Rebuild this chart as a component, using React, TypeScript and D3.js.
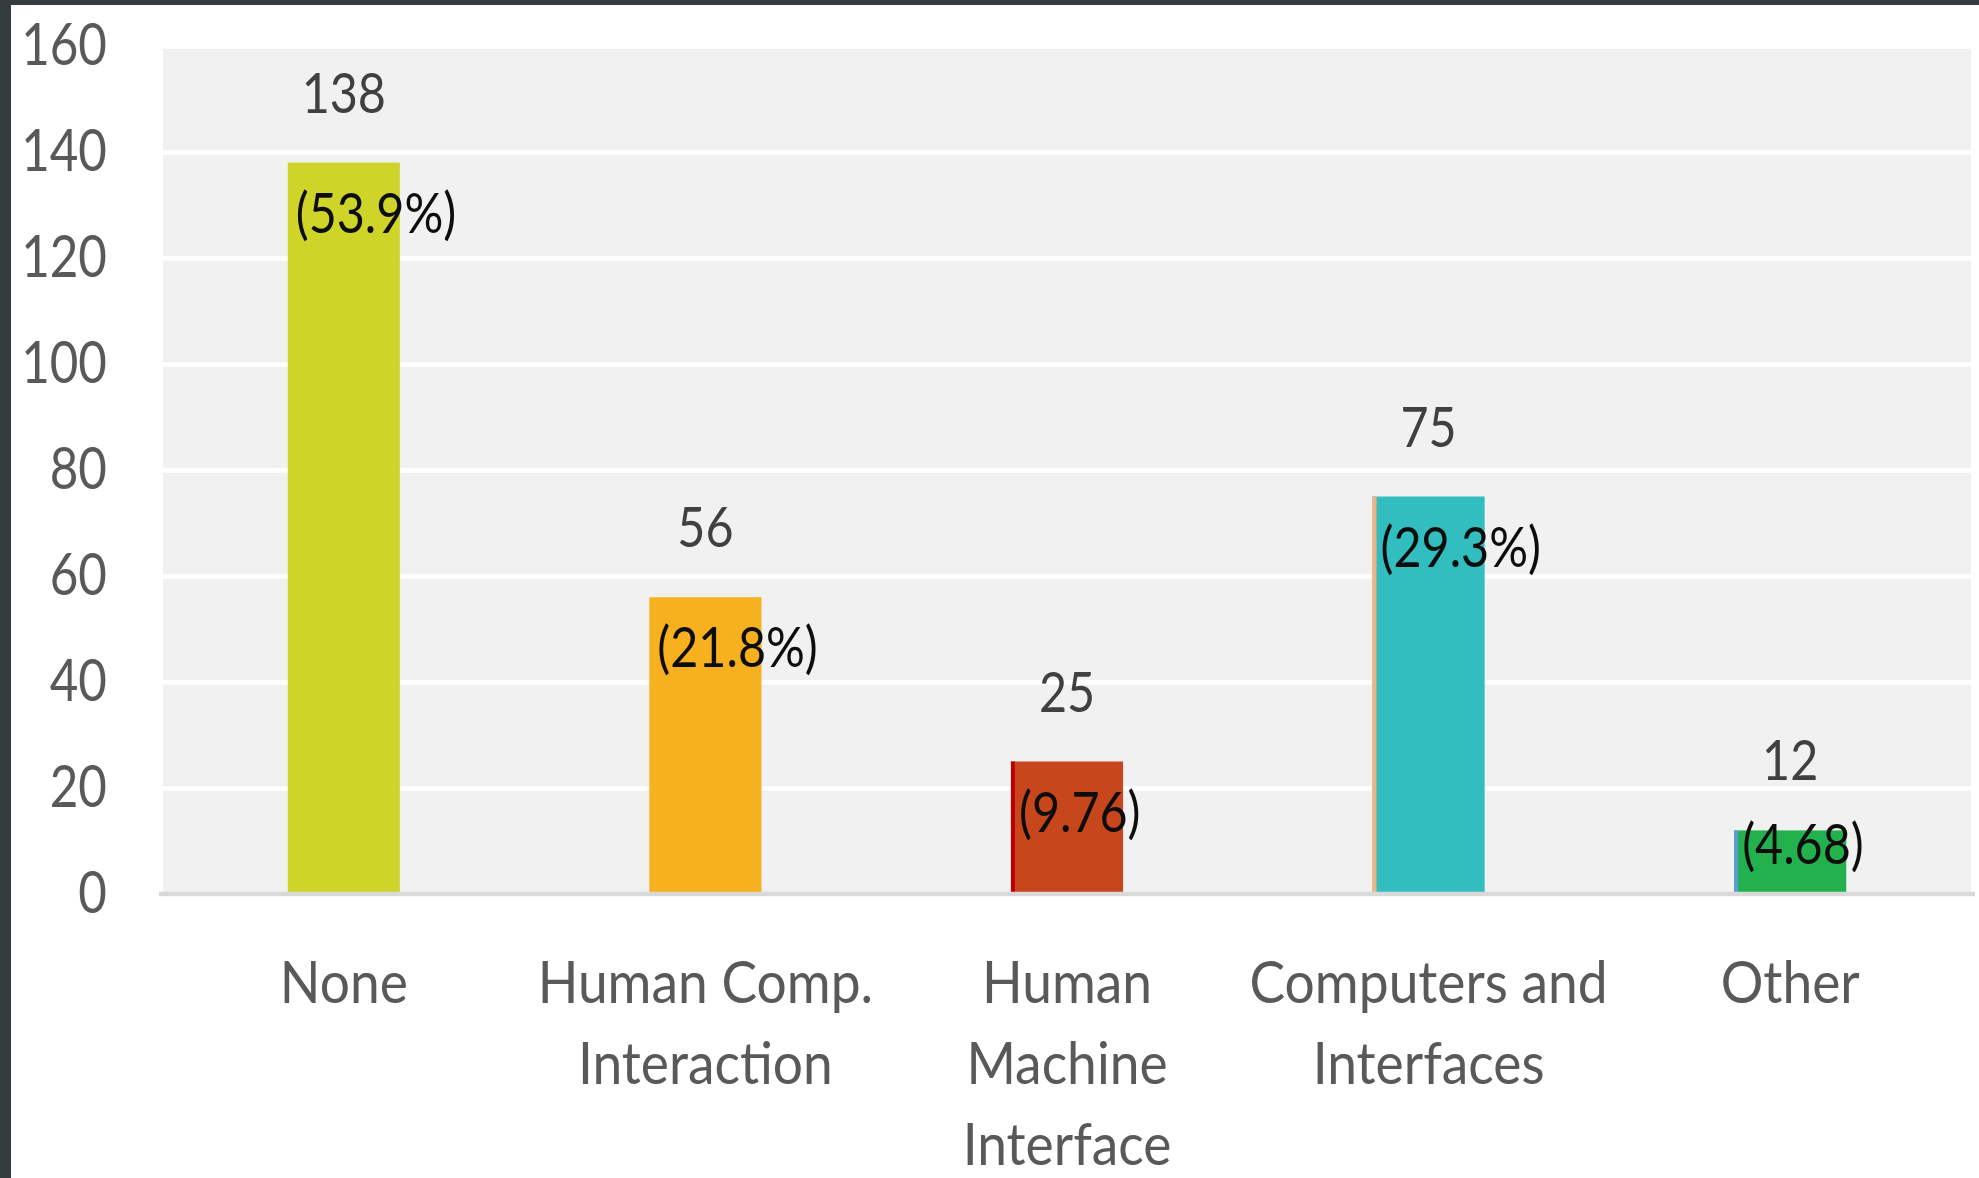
import React, { useEffect, useRef } from 'react';
import * as d3 from 'd3';

// chart data
const categories = ['None', 'Human Comp. Interaction', 'Human Machine Interface', 'Computers and Interfaces', 'Other'];
const categoryLines = [['None'], ['Human Comp.', 'Interaction'], ['Human', 'Machine', 'Interface'], ['Computers and', 'Interfaces'], ['Other']];
const counts = [138, 56, 25, 75, 12];
const shareLabels = ['(53.9%)', '(21.8%)', '(9.76)', '(29.3%)', '(4.68)'];
const barColors = ['#cfd429', '#f7b01e', '#c8461b', '#32bdbf', '#22b14c'];
const edgeColors = [null, null, '#c00000', '#f4b183', '#5b9bd5'];
const yTicks = [0, 20, 40, 60, 80, 100, 120, 140, 160];

const W = 1979;
const H = 1178;
const FONT = "Lato, 'Open Sans', sans-serif";
const SQUEEZE = 'scale(0.85,1)';
const SQUEEZE_CAT = 'scale(0.92,1)';

const App = () => {
  const svgRef = useRef<SVGSVGElement>(null);

  useEffect(() => {
    const svg = d3.select(svgRef.current);
    svg.selectAll('*').remove();

    const left = 163, right = 1971, top = 46, bottom = 894;

    const x = d3.scaleBand()
      .domain(categories)
      .range([left, right])
      .paddingInner(0.69)
      .paddingOuter(0.345);

    const y = d3.scaleLinear()
      .domain([0, 160])
      .range([bottom, top]);

    svg.append('rect').attr('width', W).attr('height', H).attr('fill', '#ffffff');

    // dark frame edges
    svg.append('rect').attr('x', 0).attr('y', 0).attr('width', 11).attr('height', H).attr('fill', '#333d3d');
    svg.append('rect').attr('x', 0).attr('y', 0).attr('width', W).attr('height', 5).attr('fill', '#333d3d');

    // plot background
    svg.append('rect')
      .attr('x', left).attr('y', top)
      .attr('width', right - left).attr('height', bottom - top)
      .attr('fill', '#f1f1f1');

    // grid lines
    const grid = svg.append('g')
      .attr('transform', `translate(${left},0)`)
      .call(d3.axisLeft(y).tickValues(yTicks).tickSize(-(right - left)).tickFormat(() => ''));
    grid.select('.domain').remove();
    grid.selectAll('line').attr('stroke', '#ffffff').attr('stroke-width', 4.5);

    // y tick labels
    const yAxis = svg.append('g')
      .attr('transform', `translate(${left},0)`)
      .call(d3.axisLeft(y).tickValues(yTicks).tickSize(0).tickPadding(66));
    yAxis.select('.domain').remove();
    yAxis.selectAll('text')
      .attr('transform', SQUEEZE)
      .attr('font-family', FONT)
      .attr('font-size', 58)
      .attr('fill', '#595959');

    const rows = categories.map((c, i) => ({
      cat: c,
      value: counts[i],
      share: shareLabels[i],
      color: barColors[i],
      edge: edgeColors[i],
      lines: categoryLines[i]
    }));

    // bars
    svg.selectAll('.bar')
      .data(rows)
      .enter().append('rect')
      .attr('class', 'bar')
      .attr('x', d => x(d.cat))
      .attr('y', d => y(d.value))
      .attr('width', x.bandwidth())
      .attr('height', d => y(0) - 2 - y(d.value))
      .attr('fill', d => d.color);

    svg.selectAll('.edge')
      .data(rows.filter(d => d.edge))
      .enter().append('rect')
      .attr('class', 'edge')
      .attr('x', d => x(d.cat))
      .attr('y', d => y(d.value))
      .attr('width', 4)
      .attr('height', d => y(0) - 2 - y(d.value))
      .attr('fill', d => d.edge);

    // x axis line
    svg.append('line')
      .attr('x1', left - 4).attr('x2', right + 4)
      .attr('y1', y(0)).attr('y2', y(0))
      .attr('stroke', '#d9d9d9')
      .attr('stroke-width', 4.5);

    // value labels
    svg.selectAll('.val')
      .data(rows)
      .enter().append('text')
      .attr('class', 'val')
      .attr('transform', d => `translate(${x(d.cat) + x.bandwidth() / 2},${y(d.value) - 50}) ${SQUEEZE}`)
      .attr('text-anchor', 'middle')
      .attr('font-family', FONT)
      .attr('font-size', 57)
      .attr('fill', '#404040')
      .text(d => d.value);

    // share labels
    svg.selectAll('.share')
      .data(rows)
      .enter().append('text')
      .attr('class', 'share')
      .attr('transform', d => `translate(${x(d.cat) + 8},${Math.min(y(d.value) + 70, y(0) - 30)}) ${SQUEEZE}`)
      .attr('font-family', FONT)
      .attr('font-size', 57)
      .attr('fill', '#0d0d0d')
      .text(d => d.share);

    // category labels
    const cats = svg.selectAll('.cat')
      .data(rows)
      .enter().append('g')
      .attr('class', 'cat');

    cats.selectAll('text')
      .data(d => d.lines.map((t, j) => ({ t, j, cx: x(d.cat) + x.bandwidth() / 2 })))
      .enter().append('text')
      .attr('transform', d => `translate(${d.cx},${1003 + d.j * 81}) ${SQUEEZE_CAT}`)
      .attr('text-anchor', 'middle')
      .attr('font-family', FONT)
      .attr('font-size', 58)
      .attr('fill', '#595959')
      .text(d => d.t);
  }, []);

  return (
    <svg
      ref={svgRef}
      width={W}
      height={H}
      style={{ position: 'absolute', left: 0, top: 0, display: 'block' }}
    />
  );
};

export default App;
